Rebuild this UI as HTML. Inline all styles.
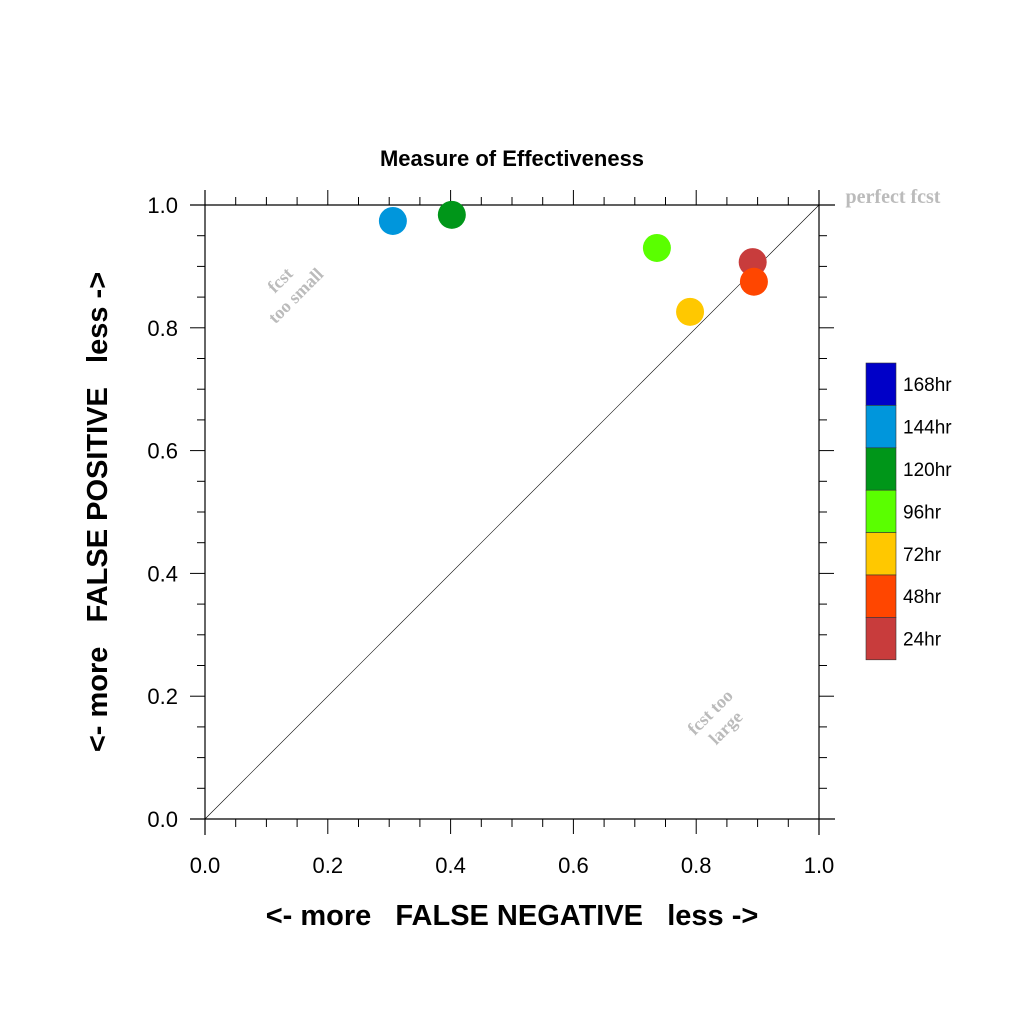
<!DOCTYPE html>
<html><head><meta charset="utf-8"><style>
body{margin:0;background:#fff}
text{font-family:"Liberation Sans",sans-serif}
</style></head><body>
<svg id="chart" width="1024" height="1024" xmlns="http://www.w3.org/2000/svg">
<rect width="1024" height="1024" fill="#fff"/>
<text x="512" y="166" font-size="22" font-weight="bold" text-anchor="middle">Measure of Effectiveness</text>
<g id="axes"></g>
<g id="pts"></g>
<g id="legend"></g>
<text x="512" y="925" font-size="29" font-weight="bold" text-anchor="middle" xml:space="preserve">&lt;- more   FALSE NEGATIVE   less -&gt;</text>
<text transform="translate(107,512) rotate(-90)" font-size="29" font-weight="bold" text-anchor="middle" xml:space="preserve">&lt;- more   FALSE POSITIVE   less -&gt;</text>
<text x="893" y="203" font-size="20" font-weight="bold" fill="#bbb" font-family="Liberation Serif" text-anchor="middle" style="font-family:'Liberation Serif',serif">perfect fcst</text>
<g transform="translate(290,290) rotate(-45)" fill="#bbb" font-weight="bold" font-size="18" text-anchor="middle">
<text y="-8" style="font-family:'Liberation Serif',serif">fcst</text><text y="14" style="font-family:'Liberation Serif',serif">too small</text></g>
<g transform="translate(720,722) rotate(-45)" fill="#bbb" font-weight="bold" font-size="18" text-anchor="middle">
<text y="-8" style="font-family:'Liberation Serif',serif">fcst too</text><text y="14" style="font-family:'Liberation Serif',serif">large</text></g>
</svg>
<script>
const labels=["144hr","120hr","96hr","72hr","24hr","48hr"];
const xVals=[0.306,0.402,0.736,0.790,0.892,0.894];
const yVals=[0.974,0.984,0.930,0.826,0.907,0.875];
const colors=["#0096dc","#009619","#5aff00","#ffc800","#c83c3c","#ff4600"];
const legendLabels=["168hr","144hr","120hr","96hr","72hr","48hr","24hr"];
const legendColors=["#0000c8","#0096dc","#009619","#5aff00","#ffc800","#ff4600","#c83c3c"];
const ticks=[0,0.2,0.4,0.6,0.8,1.0];
const NS="http://www.w3.org/2000/svg";
const X0=205,X1=819,Y0=819,Y1=205;
const sx=v=>X0+(X1-X0)*v, sy=v=>Y0-(Y0-Y1)*v;
function mk(p,tag,a){const e=document.createElementNS(NS,tag);for(const k in a)e.setAttribute(k,a[k]);p.appendChild(e);return e;}
const ax=document.getElementById('axes');
function ln(x1,y1,x2,y2,n,w){const l=mk(ax,'line',{x1,y1,x2,y2,stroke:'#000','stroke-width':w||1});

}
ln(190,Y0,835,Y0,'x-axis-bottom',1.2);ln(190,Y1,835,Y1,'x-axis-top',1.2);
ln(X0,190,X0,835,'y-axis-left',1.2);ln(X1,190,X1,835,'y-axis-right',1.2);
ln(sx(0),sy(0),sx(1),sy(1),'perfect-diagonal',0.6);
for(let i=0;i<=20;i++){const v=i/20,L=(i%4==0)?15:8;
ln(sx(v),Y0,sx(v),Y0+L,'x-tick',1);ln(sx(v),Y1,sx(v),Y1-L,'x-tick-top',1);
ln(X0,sy(v),X0-L,sy(v),'y-tick',1);ln(X1,sy(v),X1+L,sy(v),'y-tick-right',1);}
ticks.forEach(t=>{let e=mk(ax,'text',{x:sx(t),y:873,'font-size':22,'text-anchor':'middle'});e.textContent=t.toFixed(1);


e=mk(ax,'text',{x:178,y:sy(t)+8,'font-size':22,'text-anchor':'end'});e.textContent=t.toFixed(1);

});
const pg=document.getElementById('pts');
xVals.forEach((x,i)=>{const c=mk(pg,'circle',{cx:sx(x),cy:sy(yVals[i]),r:14,fill:colors[i]});

});
const lg=document.getElementById('legend');const bh=42.4;
legendLabels.forEach((l,i)=>{const r=mk(lg,'rect',{x:866,y:363+i*bh,width:30,height:bh,fill:legendColors[i],stroke:'#333','stroke-width':0.6});


const t=mk(lg,'text',{x:903,y:363+i*bh+bh/2+7,'font-size':19});t.textContent=l;

});
</script>
</body></html>
